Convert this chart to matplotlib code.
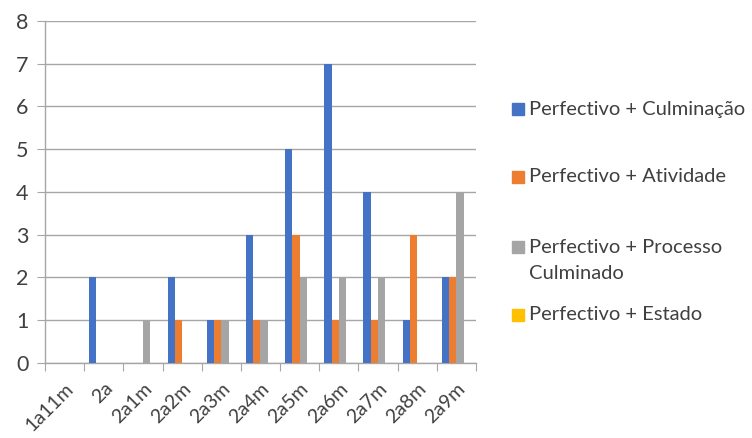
import matplotlib
matplotlib.use("Agg")
import matplotlib.pyplot as plt
from matplotlib.patches import Rectangle
import numpy as np

plt.rcParams['font.family'] = ['Lato', 'DejaVu Sans']

categories = ["1a11m", "2a", "2a1m", "2a2m", "2a3m", "2a4m", "2a5m", "2a6m", "2a7m", "2a8m", "2a9m"]
series_names = ["Perfectivo + Culminação", "Perfectivo + Atividade",
                "Perfectivo + Processo\nCulminado", "Perfectivo + Estado"]
culminacao = [0, 2, 0, 2, 1, 3, 5, 7, 4, 1, 2]
atividade = [0, 0, 0, 1, 1, 1, 3, 1, 1, 3, 2]
processo = [0, 0, 1, 0, 1, 1, 2, 2, 2, 0, 4]
estado = [0, 0, 0, 0, 0, 0, 0, 0, 0, 0, 0]
yticks = [0, 1, 2, 3, 4, 5, 6, 7, 8]

colors = ["#4472C4", "#ED7D31", "#A5A5A5", "#FFC000"]
text_color = "#404040"
grid_color = "#A6A6A6"

fig = plt.figure(figsize=(7.52, 4.38), dpi=100)
ax = fig.add_axes([0.0598, 0.1712, 0.5732, 0.7815])

x = np.arange(len(categories))
bw = 0.186
all_series = [culminacao, atividade, processo, estado]
for i, (vals, c) in enumerate(zip(all_series, colors)):
    ax.bar(x + (i - 1.5) * bw, vals, width=bw, color=c, zorder=3)

ax.set_xlim(-0.5, len(categories) - 0.5)
ax.set_ylim(0, 8)
ax.set_yticks(yticks)
ax.yaxis.grid(True, color=grid_color, linewidth=1.0, zorder=0)
ax.tick_params(axis='y', length=6, color=grid_color, labelsize=15.5,
               labelcolor=text_color, pad=6)

# category boundaries carry the x tick marks
ax.set_xticks(np.arange(len(categories) + 1) - 0.5)
ax.set_xticklabels([])
ax.set_xticks(x, minor=True)
ax.set_xticklabels(categories, minor=True, rotation=45, ha='right',
                   rotation_mode='anchor', fontsize=14, color=text_color)
ax.tick_params(axis='x', which='major', length=6, color=grid_color)
ax.tick_params(axis='x', which='minor', length=0, pad=12)

for side in ['top', 'right']:
    ax.spines[side].set_visible(False)
for side in ['left', 'bottom']:
    ax.spines[side].set_color(grid_color)
    ax.spines[side].set_linewidth(1.0)

# legend drawn at the right of the plot
W, H = 752, 438
leg_y = [109, 177, 247, 315]
for name, c, yy in zip(series_names, colors, leg_y):
    fig.patches.append(Rectangle((512 / W, 1 - (yy + 6) / H), 12 / W, 12 / H,
                                 transform=fig.transFigure, color=c))
    if '\n' in name:
        fig.text(529 / W, 1 - (yy - 8) / H, name, fontsize=14.5,
                 color=text_color, va='top', ha='left', linespacing=1.65)
    else:
        fig.text(529 / W, 1 - yy / H, name, fontsize=14.5,
                 color=text_color, va='center', ha='left')

fig.savefig("out.png", dpi=100, facecolor="white")
